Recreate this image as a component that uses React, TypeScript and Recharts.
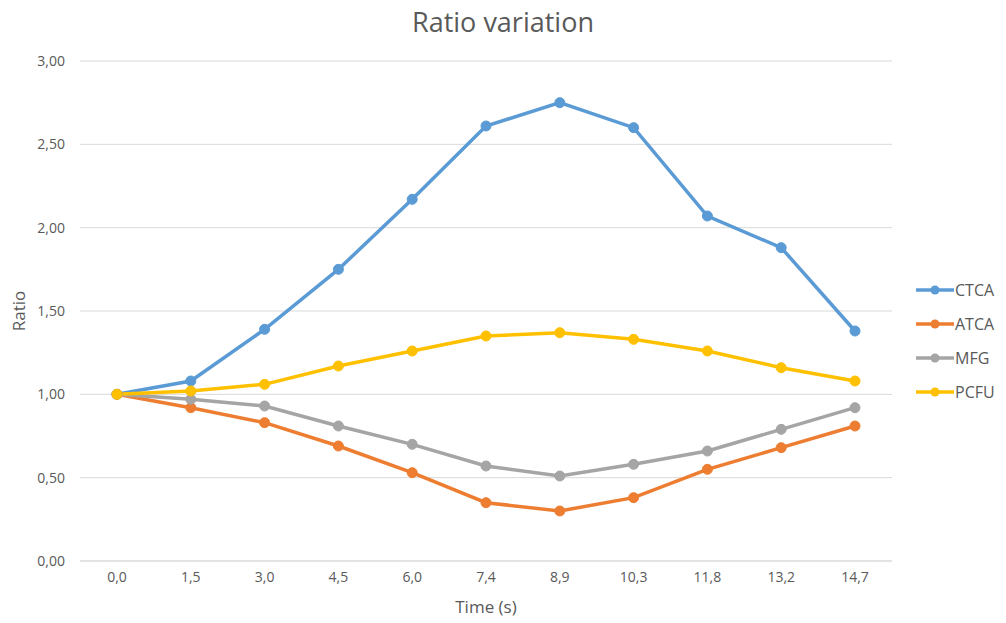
import { LineChart, Line, XAxis, YAxis, CartesianGrid } from 'recharts'

// Time points (s) shown on the x axis
const times = ['0,0', '1,5', '3,0', '4,5', '6,0', '7,4', '8,9', '10,3', '11,8', '13,2', '14,7']

// Ratio per region
const ctca = [1.0, 1.08, 1.39, 1.75, 2.17, 2.61, 2.75, 2.6, 2.07, 1.88, 1.38]
const atca = [1.0, 0.92, 0.83, 0.69, 0.53, 0.35, 0.3, 0.38, 0.55, 0.68, 0.81]
const mfg = [1.0, 0.97, 0.93, 0.81, 0.7, 0.57, 0.51, 0.58, 0.66, 0.79, 0.92]
const pcfu = [1.0, 1.02, 1.06, 1.17, 1.26, 1.35, 1.37, 1.33, 1.26, 1.16, 1.08]

const yTicks = [0, 0.5, 1, 1.5, 2, 2.5, 3]

const series = [
  { key: 'CTCA', values: ctca, color: '#5B9BD5' },
  { key: 'ATCA', values: atca, color: '#ED7D31' },
  { key: 'MFG', values: mfg, color: '#A5A5A5' },
  { key: 'PCFU', values: pcfu, color: '#FFC000' },
]

const data = times.map((t, i) => {
  const row: Record<string, string | number> = { time: t }
  series.forEach((s) => {
    row[s.key] = s.values[i]
  })
  return row
})

const FONT = '"Open Sans", sans-serif'
const TEXT = '#595959'

export default function App() {
  return (
    <div
      style={{
        position: 'absolute',
        left: 0,
        top: 0,
        width: 1006,
        height: 623,
        background: '#fff',
        fontFamily: FONT,
      }}
    >
      <div
        style={{
          position: 'absolute',
          left: 0,
          top: 4,
          width: 1006,
          textAlign: 'center',
          fontSize: 27,
          color: TEXT,
          lineHeight: '36px',
        }}
      >
        Ratio variation
      </div>

      <LineChart
        width={1006}
        height={623}
        data={data}
        margin={{ top: 61, right: 114, bottom: 7, left: 0 }}
      >
        <CartesianGrid vertical={false} stroke="#D9D9D9" strokeWidth={1} />
        <XAxis
          dataKey="time"
          height={55}
          padding={{ left: 37, right: 37 }}
          axisLine={{ stroke: '#D9D9D9' }}
          tickLine={false}
          tickMargin={5}
          tick={{ fill: TEXT, fontSize: 14, fontFamily: FONT }}
          interval={0}
          label={{
            content: (props: any) => {
              const vb = props.viewBox
              return (
                <text
                  x={vb.x + vb.width / 2}
                  y={vb.y + 47}
                  textAnchor="middle"
                  dominantBaseline="middle"
                  fill={TEXT}
                  fontSize={17}
                  fontFamily={FONT}
                >
                  Time (s)
                </text>
              )
            },
          }}
        />
        <YAxis
          width={80}
          domain={[0, 3]}
          ticks={yTicks}
          axisLine={false}
          tickLine={false}
          tickMargin={9}
          tick={{ fill: TEXT, fontSize: 14, fontFamily: FONT }}
          tickFormatter={(v: number) => v.toFixed(2).replace('.', ',')}
          label={{
            content: (props: any) => {
              const vb = props.viewBox
              const x = vb.x + 20
              const y = vb.y + vb.height / 2
              return (
                <text
                  x={x}
                  y={y}
                  transform={`rotate(-90, ${x}, ${y})`}
                  textAnchor="middle"
                  dominantBaseline="middle"
                  fill={TEXT}
                  fontSize={17}
                  fontFamily={FONT}
                >
                  Ratio
                </text>
              )
            },
          }}
        />
        {series.map((s) => (
          <Line
            key={s.key}
            type="linear"
            dataKey={s.key}
            stroke={s.color}
            strokeWidth={3.5}
            dot={{ r: 5, fill: s.color, stroke: s.color, strokeWidth: 1 }}
            activeDot={false}
            isAnimationActive={false}
          />
        ))}
      </LineChart>

      <div style={{ position: 'absolute', left: 916, top: 273 }}>
        {series.map((s) => (
          <div
            key={s.key}
            style={{ display: 'flex', alignItems: 'center', height: 34 }}
          >
            <svg width={39} height={12}>
              <line x1={0} y1={6} x2={38} y2={6} stroke={s.color} strokeWidth={3.5} />
              <circle cx={19} cy={6} r={4.5} fill={s.color} />
            </svg>
            <span style={{ fontSize: 16, color: TEXT, lineHeight: '20px' }}>{s.key}</span>
          </div>
        ))}
      </div>
    </div>
  )
}
